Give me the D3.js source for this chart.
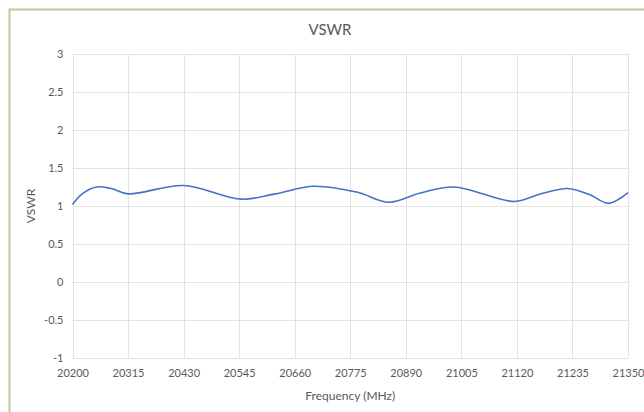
<!DOCTYPE html>
<html>
<head>
<meta charset="utf-8">
<script src="https://cdn.jsdelivr.net/npm/d3@7"></script>
<style>
  body { margin: 0; background: #fff; }
  text { font-family: Lato, "Open Sans", sans-serif; fill: #595959; }
</style>
</head>
<body>
<svg width="644" height="412"></svg>
<script>
var width = 644, height = 412;

// data
var freqs = [20200, 20220, 20250, 20280, 20315, 20430, 20550, 20620,
             20700, 20790, 20855, 20920, 20990, 21115, 21170, 21225,
             21270, 21310, 21350];
var vswr = [1.02, 1.16, 1.25, 1.23, 1.16, 1.27, 1.09, 1.16,
            1.26, 1.18, 1.05, 1.17, 1.25, 1.06, 1.16, 1.23,
            1.15, 1.035, 1.175];
var xTicks = [20200, 20315, 20430, 20545, 20660, 20775, 20890, 21005, 21120, 21235, 21350];
var yTicks = [-1, -0.5, 0, 0.5, 1, 1.5, 2, 2.5, 3];

var margin = {left: 72.5, right: 644 - 628, top: 54, bottom: 412 - 358};

var svg = d3.select("svg");

// chart frame
svg.append("rect")
  .attr("x", 9.5).attr("y", 9.5)
  .attr("width", 660).attr("height", 430)
  .attr("fill", "#fff")
  .attr("stroke", "#c8c39c")
  .attr("stroke-width", 2);

var x = d3.scaleLinear().domain([20200, 21350]).range([margin.left, width - margin.right]);
var y = d3.scaleLinear().domain([-1, 3]).range([height - margin.bottom, margin.top]);

// gridlines
svg.append("g").selectAll("line.h")
  .data(yTicks).enter().append("line")
  .attr("x1", x(20200)).attr("x2", x(21350))
  .attr("y1", function(d) { return Math.round(y(d)) + 0.5; })
  .attr("y2", function(d) { return Math.round(y(d)) + 0.5; })
  .attr("stroke", "#e3e3e3");

svg.append("g").selectAll("line.v")
  .data(xTicks).enter().append("line")
  .attr("y1", y(3)).attr("y2", y(-1))
  .attr("x1", function(d) { return Math.round(x(d)) + 0.5; })
  .attr("x2", function(d) { return Math.round(x(d)) + 0.5; })
  .attr("stroke", "#e3e3e3");

// axes labels
var yAxis = d3.axisLeft(y).tickValues(yTicks).tickSize(0).tickPadding(9)
  .tickFormat(function(d) { return d; });
svg.append("g")
  .attr("transform", "translate(" + margin.left + ",0)")
  .call(yAxis)
  .call(function(g) { g.select(".domain").remove(); })
  .selectAll("text").style("font-size", "11px").attr("fill", "#595959");

var xAxis = d3.axisBottom(x).tickValues(xTicks).tickSize(0).tickPadding(11)
  .tickFormat(d3.format("d"));
svg.append("g")
  .attr("transform", "translate(0," + y(-1) + ")")
  .call(xAxis)
  .call(function(g) { g.select(".domain").remove(); })
  .selectAll("text").style("font-size", "11px").attr("fill", "#595959");

// the series
var line = d3.line()
  .x(function(d, i) { return x(freqs[i]); })
  .y(function(d) { return y(d); })
  .curve(d3.curveCatmullRom.alpha(0.5));

svg.append("path")
  .datum(vswr)
  .attr("d", line)
  .attr("fill", "none")
  .attr("stroke", "#4472c4")
  .attr("stroke-width", 1.6);

// titles
svg.append("text")
  .attr("x", 330).attr("y", 35)
  .attr("text-anchor", "middle")
  .style("font-size", "15px")
  .text("VSWR");

svg.append("text")
  .attr("x", (x(20200) + x(21350)) / 2).attr("y", 400)
  .attr("text-anchor", "middle")
  .style("font-size", "12px")
  .text("Frequency (MHz)");

svg.append("text")
  .attr("transform", "translate(35," + y(1) + ") rotate(-90)")
  .attr("text-anchor", "middle")
  .style("font-size", "12px")
  .text("VSWR");
</script>
</body>
</html>
